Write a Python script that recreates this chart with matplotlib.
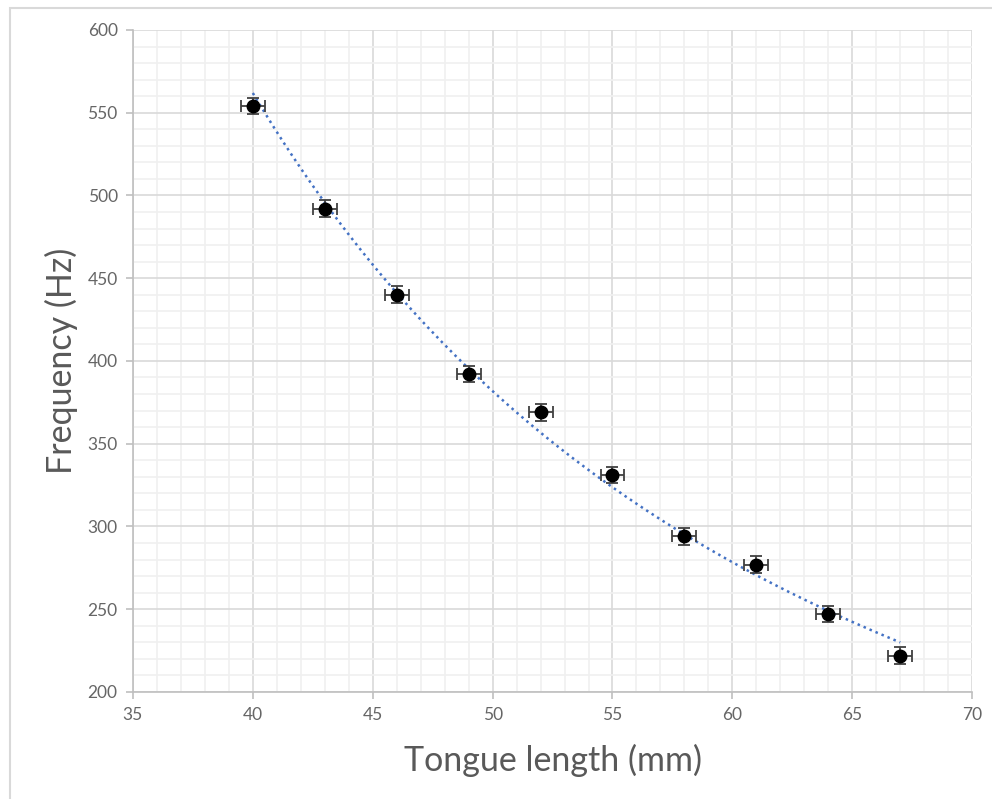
import numpy as np
import matplotlib.pyplot as plt
from matplotlib.patches import Rectangle
from matplotlib.ticker import MultipleLocator

# Measured tongue lengths and frequencies
length_mm = [40, 43, 46, 49, 52, 55, 58, 61, 64, 67]
freq_hz = [554, 492, 440, 392, 369, 331, 294, 277, 247, 222]
x_err = 0.5
y_err = 5

plt.rcParams['font.family'] = ['Lato', 'DejaVu Sans']

fig = plt.figure(figsize=(9.92, 7.99), dpi=100)
ax = fig.add_axes([0.134, 0.134, 0.846, 0.8285])

# light frame around the chart (only top and left edges fall inside the image)
fig.patches.append(Rectangle((0.010, -0.05), 1.2, 1.04, transform=fig.transFigure,
                             fill=False, edgecolor='#d9d9d9', linewidth=1.5))

# power trendline fitted to the points
b, log_a = np.polyfit(np.log(length_mm), np.log(freq_hz), 1)
xs = np.linspace(min(length_mm), max(length_mm), 200)
ax.plot(xs, np.exp(log_a) * xs ** b, linestyle=(0, (1, 1.6)), color='#4472c4',
        linewidth=1.8, zorder=3)

ax.errorbar(length_mm, freq_hz, xerr=x_err, yerr=y_err, fmt='o', color='black',
            markersize=9, ecolor='#404040', elinewidth=1.3, capsize=4, capthick=1.3,
            zorder=4)

ax.set_xlim(35, 70)
ax.set_ylim(200, 600)
ax.xaxis.set_major_locator(MultipleLocator(5))
ax.xaxis.set_minor_locator(MultipleLocator(1))
ax.yaxis.set_major_locator(MultipleLocator(50))
ax.yaxis.set_minor_locator(MultipleLocator(10))

ax.grid(which='major', color='#d9d9d9', linewidth=1.2)
ax.grid(which='minor', color='#f0f0f0', linewidth=1.2)
ax.set_axisbelow(True)

for side in ['top', 'right']:
    ax.spines[side].set_visible(False)
for side in ['left', 'bottom']:
    ax.spines[side].set_color('#bfbfbf')
    ax.spines[side].set_linewidth(1.2)

ax.tick_params(which='major', length=5, color='#bfbfbf', width=1.2,
               labelsize=12.5, labelcolor='#666666', pad=6)
ax.tick_params(which='minor', length=0)

ax.set_xlabel('Tongue length (mm)', fontsize=24.5, color='#595959', labelpad=15)
ax.set_ylabel('Frequency (Hz)', fontsize=24.5, color='#595959', labelpad=7)

fig.savefig('out.png', dpi=100)
